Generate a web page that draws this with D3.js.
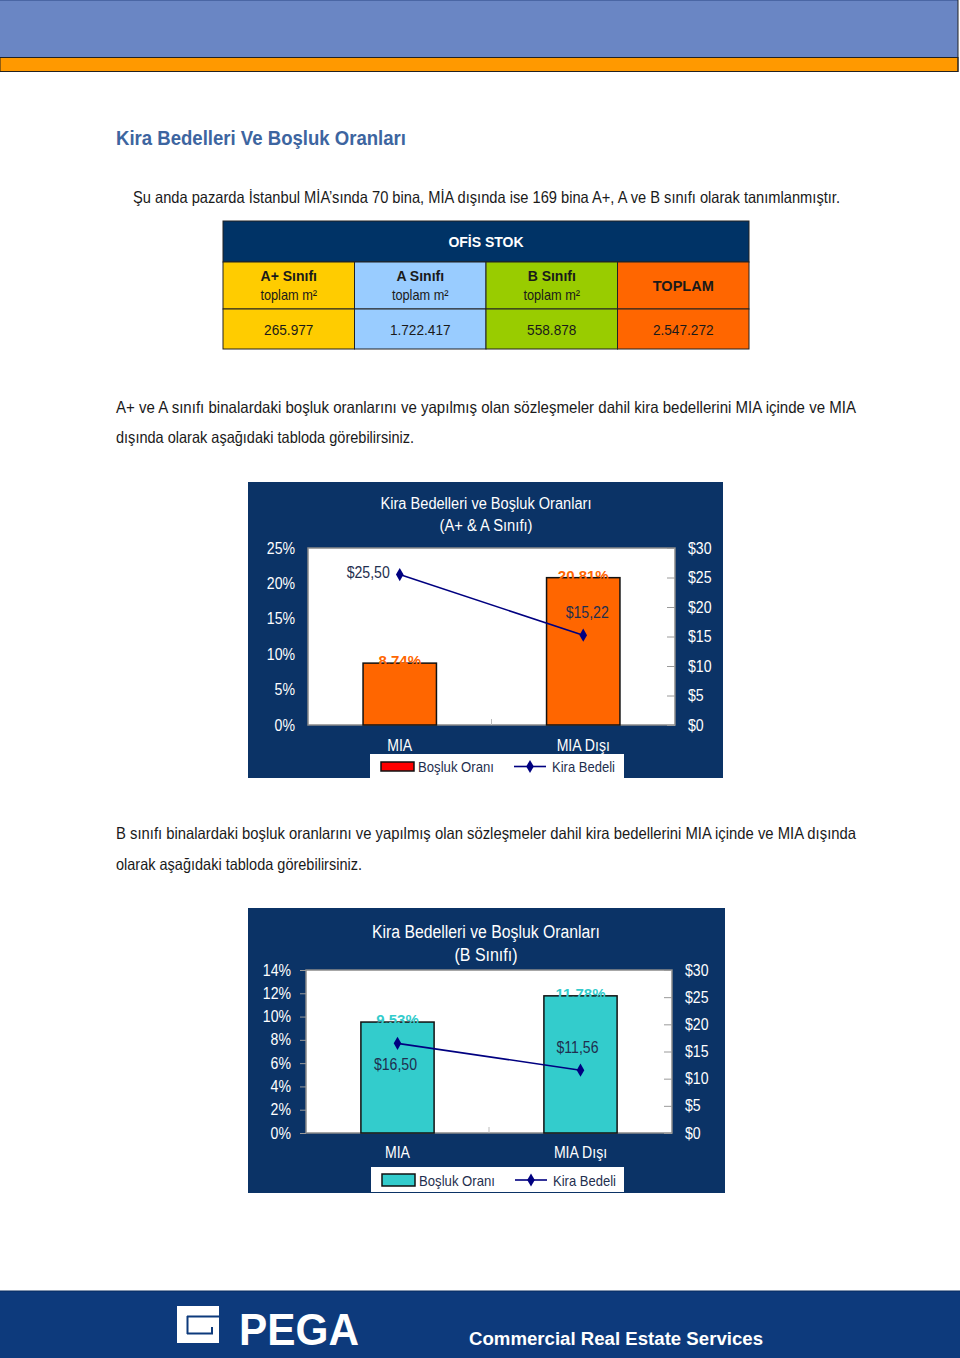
<!DOCTYPE html>
<html><head><meta charset="utf-8">
<script src="https://cdn.jsdelivr.net/npm/d3@7"></script>
<style>
body{margin:0;background:#fff;}
svg{display:block;}
.n{font-family:"Liberation Sans Narrow","Arial Narrow","Liberation Sans",sans-serif;}
.s{font-family:"Liberation Sans",Arial,sans-serif;}
</style></head>
<body><svg id="c" width="960" height="1358"></svg>
<script>
// ---- data ----
const stockClasses = ["A+ Sınıfı", "A Sınıfı", "B Sınıfı", "TOPLAM"];
const stockValues = ["265.977", "1.722.417", "558.878", "2.547.272"];
const categories = ["MIA", "MIA Dışı"];
const vacancyAA = [8.74, 20.81];
const rentAA = [25.50, 15.22];
const vacancyB = [9.53, 11.78];
const rentB = [16.50, 11.56];
const leftTicksAA = [0, 5, 10, 15, 20, 25];
const leftTicksB = [0, 2, 4, 6, 8, 10, 12, 14];
const rightTicks = [0, 5, 10, 15, 20, 25, 30];
const fmtComma = v => v.toFixed(2).replace(".", ",");

const svg = d3.select("#c");
const NAVY = "#0b3366";
const fit = (sel, w) => sel.attr("textLength", w).attr("lengthAdjust", "spacingAndGlyphs");

// header bands
svg.append("rect").attr("x",0).attr("y",0).attr("width",958).attr("height",57).attr("fill","#6a86c4");
svg.append("line").attr("x1",0).attr("x2",958).attr("y1",0.5).attr("y2",0.5).attr("stroke","#4a66a4");
svg.append("rect").attr("x",0).attr("y",57.5).attr("width",958).attr("height",14).attr("fill","#ff9900").attr("stroke","#222").attr("stroke-width",1);
svg.append("line").attr("x1",958).attr("x2",958).attr("y1",0).attr("y2",72).attr("stroke","#222");

// title & paragraphs
fit(svg.append("text").attr("class","n").attr("x",116).attr("y",145).attr("font-size",21).attr("font-weight","bold")
  .attr("fill","#3d65a0").text("Kira Bedelleri Ve Boşluk Oranları"), 290);
const para = (x,y,t,w) => fit(svg.append("text").attr("class","n").attr("x",x).attr("y",y).attr("font-size",16.5).attr("fill","#1a1a1a").text(t), w);
para(133,203,"Şu anda pazarda İstanbul MİA’sında 70 bina, MİA dışında ise 169 bina A+, A ve B sınıfı olarak tanımlanmıştır.",707);
para(116,413,"A+ ve A sınıfı binalardaki boşluk oranlarını ve yapılmış olan sözleşmeler dahil kira bedellerini MIA içinde ve MIA",740);
para(116,443,"dışında olarak aşağıdaki tabloda görebilirsiniz.",298);
para(116,839,"B sınıfı binalardaki boşluk oranlarını ve yapılmış olan sözleşmeler dahil kira bedellerini MIA içinde ve MIA dışında",740);
para(116,870,"olarak aşağıdaki tabloda görebilirsiniz.",246);

// stock table
const tx = d3.scaleBand().domain(stockClasses).range([223,749]);
const cellColors = ["#ffcc00","#99ccff","#99cc00","#ff6600"];
svg.append("rect").attr("x",223).attr("y",221).attr("width",526).attr("height",41).attr("fill","#003366").attr("stroke","#222");
svg.append("text").attr("class","s").attr("x",486).attr("y",247).attr("text-anchor","middle").attr("font-size",14).attr("font-weight","bold").attr("fill","#fff").text("OFİS STOK");
stockClasses.forEach((c,i)=>{
  const x = tx(c), w = tx.bandwidth();
  svg.append("rect").attr("x",x).attr("y",262).attr("width",w).attr("height",47).attr("fill",cellColors[i]).attr("stroke","#222");
  svg.append("rect").attr("x",x).attr("y",309).attr("width",w).attr("height",40).attr("fill",cellColors[i]).attr("stroke","#222");
  if (c === "TOPLAM") {
    svg.append("text").attr("class","s").attr("x",x+w/2).attr("y",291).attr("text-anchor","middle").attr("font-size",14.5).attr("font-weight","bold").attr("fill","#1a1a1a").text(c);
  } else {
    svg.append("text").attr("class","s").attr("x",x+w/2).attr("y",281).attr("text-anchor","middle").attr("font-size",14).attr("font-weight","bold").attr("fill","#1a1a1a").text(c);
    svg.append("text").attr("class","n nar").attr("x",x+w/2).attr("y",300).attr("text-anchor","middle").attr("font-size",14.5).attr("fill","#1a1a1a").text("toplam m²");
  }
  svg.append("text").attr("class","n nar").attr("x",x+w/2).attr("y",335).attr("text-anchor","middle").attr("font-size",15.5).attr("fill","#1a1a1a").text(stockValues[i]);
});

// combo chart
function combo(o){
  const g = svg.append("g");
  g.append("rect").attr("x",o.px).attr("y",o.py).attr("width",o.pw).attr("height",o.ph).attr("fill",NAVY);
  o.title.forEach((t,i)=>fit(g.append("text").attr("class","n").attr("x",o.tx).attr("y",o.ty[i]).attr("text-anchor","middle")
     .attr("font-size",o.tfs).attr("fill","#fff").text(t), o.tw[i]));
  const x = d3.scaleBand().domain(categories).range([o.x0,o.x1]).paddingInner(0.6).paddingOuter(0.3);
  const xc = d3.scalePoint().domain(categories).range([o.x0,o.x1]).padding(0.5);
  const yL = d3.scaleLinear().domain([0,o.lmax]).range([o.y1,o.y0]);
  const yR = d3.scaleLinear().domain([0,30]).range([o.y1,o.y0]);
  g.append("rect").attr("x",o.x0).attr("y",o.y0).attr("width",o.x1-o.x0).attr("height",o.y1-o.y0).attr("fill","#fff").attr("stroke","#8a8a8a").attr("stroke-width",1.5);
  // axes
  const aL = g.append("g").attr("transform",`translate(${o.x0},0)`)
    .call(d3.axisLeft(yL).tickValues(o.lticks).tickFormat(d=>d+"%").tickSize(o.ltick).tickPadding(o.lpad));
  const aR = g.append("g").attr("transform",`translate(${o.x1},0)`)
    .call(d3.axisRight(yR).tickValues(rightTicks).tickFormat(d=>"$"+d).tickSize(-8).tickPadding(o.rpad));
  [aL,aR].forEach(a=>{a.select(".domain").remove();a.selectAll("line").attr("stroke","#9a9a9a");
    a.selectAll("text").attr("class","n nar").attr("fill","#fff").attr("font-size",o.afs);});
  // mid tick on x axis
  g.append("line").attr("x1",(o.x0+o.x1)/2).attr("x2",(o.x0+o.x1)/2).attr("y1",o.y1).attr("y2",o.y1-6).attr("stroke","#bbb");
  // bars
  g.selectAll(".bar").data(o.vac).join("rect").attr("x",(d,i)=>x(categories[i])).attr("y",d=>yL(d))
    .attr("width",x.bandwidth()).attr("height",d=>o.y1-yL(d)).attr("fill",o.barColor).attr("stroke","#111").attr("stroke-width",1.5);
  // line
  const line = d3.line().x((d,i)=>xc(categories[i])).y(d=>yR(d));
  g.append("path").attr("d",line(o.rent)).attr("fill","none").attr("stroke","#000080").attr("stroke-width",1.6);
  const diamond = d3.symbol().type(d3.symbolDiamond).size(50);
  g.selectAll(".pt").data(o.rent).join("path").attr("d",diamond)
    .attr("transform",(d,i)=>`translate(${xc(categories[i])},${yR(d)})`).attr("fill","#000080");
  o.rent.forEach((d,i)=>{
    const p = o.rlab[i];
    g.append("text").attr("class","n nar").attr("x",xc(categories[i])+p[0]).attr("y",yR(d)+p[1]).attr("text-anchor",p[2])
      .attr("font-size",o.afs).attr("fill","#1f2f4f").text("$"+fmtComma(d));
  });
  // bar value labels (on top of bar edge)
  g.selectAll(".bl").data(o.vac).join("text").attr("class","s").attr("x",(d,i)=>xc(categories[i])).attr("y",d=>yL(d)+3)
    .attr("text-anchor","middle").attr("font-size",15).attr("font-weight","bold").attr("fill",o.barColor).text(d=>fmtComma(d)+"%");
  // category labels
  categories.forEach(c=>g.append("text").attr("class","n nar").attr("x",xc(c)).attr("y",o.cy).attr("text-anchor","middle")
     .attr("font-size",o.afs).attr("fill","#fff").text(c));
  // legend
  const L = o.leg;
  g.append("rect").attr("x",L.x).attr("y",L.y).attr("width",L.w).attr("height",L.h).attr("fill","#fff");
  g.append("rect").attr("x",L.x+11).attr("y",L.sy).attr("width",33).attr("height",L.sh).attr("fill",o.legColor).attr("stroke","#111").attr("stroke-width",1.5);
  fit(g.append("text").attr("class","n").attr("x",L.x+48).attr("y",L.ty).attr("font-size",o.lfs).attr("fill","#1f2f4f").text("Boşluk Oranı"), 76);
  g.append("line").attr("x1",L.x+144).attr("x2",L.x+176).attr("y1",L.sy+L.sh/2).attr("y2",L.sy+L.sh/2).attr("stroke","#000080").attr("stroke-width",1.6);
  g.append("path").attr("d",diamond).attr("transform",`translate(${L.x+160},${L.sy+L.sh/2})`).attr("fill","#000080");
  fit(g.append("text").attr("class","n").attr("x",L.x+182).attr("y",L.ty).attr("font-size",o.lfs).attr("fill","#1f2f4f").text("Kira Bedeli"), 63);
}

combo({px:248,py:482,pw:475,ph:296,title:["Kira Bedelleri ve Boşluk Oranları","(A+ & A Sınıfı)"],tx:486,ty:[509,531],tw:[211,93],tfs:16,
  x0:308,x1:675,y0:548,y1:725,lmax:25,lticks:leftTicksAA,ltick:0,lpad:13,rpad:13,afs:16,
  vac:vacancyAA,rent:rentAA,barColor:"#ff6600",legColor:"#ff0000",
  rlab:[[-10,3,"end"],[4,-17,"middle"]],cy:751,lfs:15,
  leg:{x:370,y:754,w:254,h:24,sy:762,sh:9,ty:772}});
combo({px:248,py:908,pw:477,ph:285,title:["Kira Bedelleri ve Boşluk Oranları","(B Sınıfı)"],tx:486,ty:[938,961],tw:[228,63],tfs:18,
  x0:306,x1:672,y0:970,y1:1133,lmax:14,lticks:leftTicksB,ltick:6,lpad:9,rpad:13,afs:16,
  vac:vacancyB,rent:rentB,barColor:"#33cccc",legColor:"#33cccc",
  rlab:[[-2,27,"middle"],[-3,-17,"middle"]],cy:1158,lfs:15,
  leg:{x:371,y:1167,w:253,h:25,sy:1174,sh:12,ty:1186}});

// narrow the remaining Arial-Narrow-style texts
svg.selectAll("text.nar").each(function(){
  const len = this.getComputedTextLength();
  d3.select(this).attr("textLength", (len*0.88).toFixed(1)).attr("lengthAdjust","spacingAndGlyphs");
});

// footer
svg.append("rect").attr("x",0).attr("y",1291).attr("width",960).attr("height",67).attr("fill","#0d3a7c");
svg.append("line").attr("x1",0).attr("x2",960).attr("y1",1291).attr("y2",1291).attr("stroke","#082a5c");
svg.append("rect").attr("x",177).attr("y",1306).attr("width",42).attr("height",37).attr("fill","#fff");
svg.append("path").attr("d","M187,1316.5 H219 M187.5,1316 V1334 M187,1333.5 H212 V1327").attr("stroke","#0d3a7c").attr("stroke-width",2).attr("fill","none");
fit(svg.append("text").attr("class","s").attr("x",239).attr("y",1345).attr("font-size",44).attr("font-weight","bold").attr("fill","#fff").text("PEGA"), 120);
fit(svg.append("text").attr("class","s").attr("x",469).attr("y",1345).attr("font-size",18).attr("font-weight","bold").attr("fill","#fff").text("Commercial Real Estate Services"), 294);
</script>
</body></html>
